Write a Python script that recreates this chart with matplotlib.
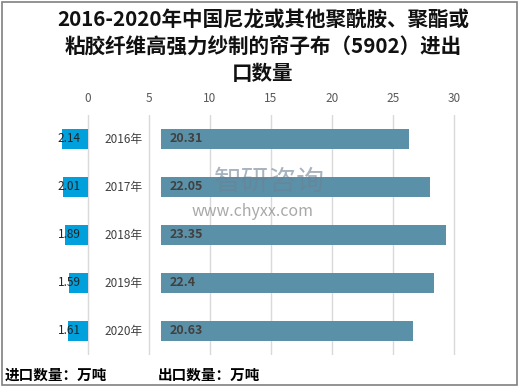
import matplotlib
matplotlib.use("Agg")
import matplotlib.pyplot as plt
from matplotlib.patches import Rectangle

plt.rcParams['font.family'] = ['Noto Sans CJK SC', 'DejaVu Sans']

years = ['2016年', '2017年', '2018年', '2019年', '2020年']
imports = [2.14, 2.01, 1.89, 1.59, 1.61]
exports = [20.31, 22.05, 23.35, 22.4, 20.63]
xticks = [0, 5, 10, 15, 20, 25, 30]

title = "2016-2020年中国尼龙或其他聚酰胺、聚酯或\n粘胶纤维高强力纱制的帘子布（5902）进出\n口数量"

W, H = 521, 389
fig = plt.figure(figsize=(W / 100, H / 100), dpi=100)

# axes placed so that 0 sits at ~88px and 1 unit ~12.2px
x0, x1 = 2.6, 515.0
y_top, y_bot = 115, 355
ax = fig.add_axes([x0 / W, (H - y_bot) / H, (x1 - x0) / W, (y_bot - y_top) / H])
ax.set_xlim(-7, 35)
ax.set_ylim(4.5, -0.5)

offset = 6  # gap on the right side where year labels sit
pos = list(range(len(years)))

ax.barh(pos, [-v for v in imports], height=0.4, color='#00A0DC', zorder=3)
ax.barh(pos, exports, left=offset, height=0.4, color='#5B91A8', zorder=3)

for i in pos:
    ax.text(-0.6, i, f"{imports[i]:g}", ha='right', va='center',
            fontsize=8.5, color='#222222', zorder=4)
    ax.text(offset + 0.7, i, f"{exports[i]:g}", ha='left', va='center',
            fontsize=9, color='#404040', fontweight='bold', zorder=4)
    ax.text(2.9, i, years[i], ha='center', va='center',
            fontsize=8.5, color='#404040', zorder=4)

ax.set_xticks(xticks)
ax.xaxis.tick_top()
ax.tick_params(axis='x', length=0, pad=7, labelsize=8.5, labelcolor='#595959')
ax.set_yticks([])
ax.grid(axis='x', color='#D9D9D9', linewidth=1, zorder=0)
for s in ax.spines.values():
    s.set_visible(False)

fig.text(263 / W, 1 - 47 / H, title, ha='center', va='center',
         fontsize=14.8, fontweight='bold', linespacing=1.33, color='#111111')

fig.text(5 / W, 1 - 375 / H, "进口数量：万吨", ha='left', va='center',
         fontsize=10.5, fontweight='bold', color='#000000')
fig.text(158 / W, 1 - 375 / H, "出口数量：万吨", ha='left', va='center',
         fontsize=10.5, fontweight='bold', color='#000000')

# watermark
fig.text(214 / W, 1 - 182 / H, "智研咨询", ha='left', va='center',
         fontsize=20, color='#6D8194', alpha=0.6)
fig.text(192 / W, 1 - 211 / H, "www.chyxx.com", ha='left', va='center',
         fontsize=11.5, color='#8C8C8C', alpha=0.75)

fig.add_artist(Rectangle((2 / W, (H - 385) / H), 515 / W, 383 / H,
                         transform=fig.transFigure, fill=False,
                         edgecolor='#808080', linewidth=1.2))

fig.savefig("out.png", dpi=100)
